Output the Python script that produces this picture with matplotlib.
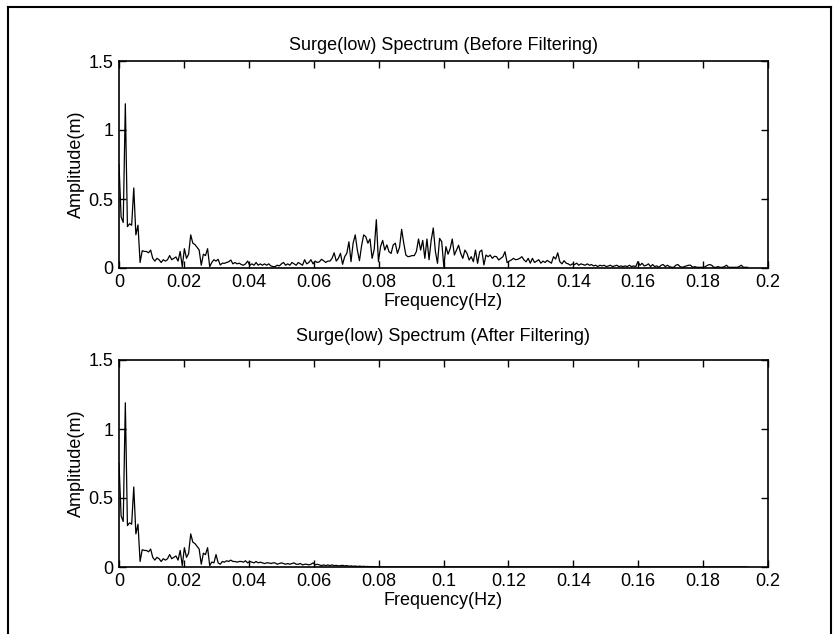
import matplotlib
matplotlib.use('Agg')
import matplotlib.pyplot as plt
from matplotlib.lines import Line2D
import numpy as np

# frequency grid of the spectrum (Hz)
df = 0.00065
n_points = 299

# amplitude before filtering (m), one value per frequency bin
before = [
    0.75, 0.37, 0.33, 1.19, 0.30, 0.32, 0.31, 0.58, 0.24, 0.31,
    0.04, 0.125, 0.12, 0.12, 0.11, 0.13, 0.07, 0.05, 0.07, 0.06,
    0.04, 0.06, 0.05, 0.06, 0.09, 0.06, 0.07, 0.08, 0.05, 0.12,
    0.01, 0.14, 0.07, 0.10, 0.24, 0.18, 0.17, 0.15, 0.13, 0.02,
    0.10, 0.09, 0.14, 0.01, 0.04, 0.06, 0.05, 0.063, 0.022, 0.035,
    0.034, 0.04, 0.045, 0.058, 0.03, 0.04, 0.03, 0.035, 0.025, 0.02,
    0.03, 0.05, 0.02, 0.03, 0.02, 0.04, 0.02, 0.03, 0.02, 0.03,
    0.02, 0.03, 0.015, 0.01, 0.01, 0.02, 0.015, 0.03, 0.04, 0.02,
    0.03, 0.02, 0.04, 0.03, 0.02, 0.04, 0.03, 0.02, 0.06, 0.03,
    0.04, 0.06, 0.03, 0.05, 0.04, 0.045, 0.063, 0.053, 0.04, 0.05,
    0.05, 0.07, 0.11, 0.05, 0.07, 0.106, 0.027, 0.082, 0.106, 0.19,
    0.046, 0.18, 0.24, 0.13, 0.053, 0.16, 0.24, 0.227, 0.18, 0.21,
    0.07, 0.135, 0.35, 0.046, 0.155, 0.20, 0.13, 0.167, 0.118, 0.106,
    0.167, 0.18, 0.106, 0.15, 0.28, 0.18, 0.094, 0.082, 0.085, 0.09,
    0.09, 0.12, 0.21, 0.13, 0.20, 0.07, 0.21, 0.06, 0.20, 0.29,
    0.12, 0.034, 0.215, 0.19, 0.01, 0.155, 0.10, 0.14, 0.21, 0.094,
    0.13, 0.165, 0.106, 0.07, 0.13, 0.106, 0.058, 0.082, 0.046, 0.13,
    0.034, 0.118, 0.13, 0.022, 0.094, 0.082, 0.094, 0.07, 0.085, 0.082,
    0.058, 0.07, 0.082, 0.118, 0.039, 0.05, 0.058, 0.07, 0.06, 0.063,
    0.07, 0.082, 0.058, 0.045, 0.07, 0.035, 0.07, 0.04, 0.05, 0.06,
    0.035, 0.05, 0.04, 0.055, 0.045, 0.035, 0.082, 0.065, 0.11, 0.046,
    0.03, 0.053, 0.035, 0.03, 0.02, 0.03, 0.025, 0.035, 0.02, 0.03,
    0.025, 0.02, 0.03, 0.02, 0.025, 0.015, 0.02, 0.01, 0.02, 0.015,
    0.02, 0.01, 0.015, 0.02, 0.01, 0.015, 0.02, 0.01, 0.015, 0.01,
    0.015, 0.01, 0.02, 0.01, 0.015, 0.01, 0.046, 0.02, 0.034, 0.015,
    0.02, 0.03, 0.01, 0.025, 0.01, 0.015, 0.005, 0.02, 0.025, 0.01,
    0.02, 0.01, 0.005, 0.005, 0.02, 0.025, 0.01, 0.005, 0.01, 0.015,
    0.02, 0.02, 0.005, 0.01, 0.005, 0.005, 0.005, 0.005, 0.01, 0.02,
    0.025, 0.02, 0.005, 0.005, 0.01, 0.005, 0.005, 0.01, 0.02, 0.005,
    0.005, 0.005, 0.005, 0.005, 0.01, 0.02, 0.005, 0.005, 0.005,
]

# amplitude after filtering (m): low band kept, the rest goes to zero
after_low = [
    0.75, 0.37, 0.33, 1.19, 0.30, 0.32, 0.31, 0.58, 0.24, 0.31,
    0.04, 0.125, 0.12, 0.12, 0.11, 0.13, 0.07, 0.05, 0.07, 0.06,
    0.04, 0.06, 0.05, 0.06, 0.09, 0.06, 0.07, 0.08, 0.05, 0.12,
    0.01, 0.14, 0.07, 0.10, 0.24, 0.18, 0.17, 0.15, 0.13, 0.02,
    0.10, 0.09, 0.14, 0.01, 0.036, 0.03, 0.09, 0.03, 0.02, 0.04,
    0.035, 0.045, 0.04, 0.05, 0.04, 0.04, 0.035, 0.04, 0.04, 0.035,
    0.045, 0.03, 0.04, 0.035, 0.03, 0.04, 0.03, 0.035, 0.03, 0.025,
    0.03, 0.03, 0.025, 0.03, 0.03, 0.02, 0.025, 0.03, 0.025, 0.02,
    0.025, 0.02, 0.025, 0.03, 0.02, 0.02, 0.025, 0.015, 0.02, 0.02,
    0.015, 0.02, 0.03, 0.015, 0.02, 0.015, 0.01, 0.015, 0.01, 0.015,
    0.01, 0.015, 0.01, 0.012, 0.008, 0.01, 0.012, 0.008, 0.01, 0.006,
    0.008, 0.005, 0.007, 0.004, 0.006, 0.004, 0.005, 0.003, 0.004, 0.002,
    0.003, 0.002, 0.001,
]
after = after_low + [0.0] * (n_points - len(after_low))

freq = np.arange(n_points) * df

xticks = [0, 0.02, 0.04, 0.06, 0.08, 0.1, 0.12, 0.14, 0.16, 0.18, 0.2]
xtick_labels = ['0', '0.02', '0.04', '0.06', '0.08', '0.1', '0.12', '0.14', '0.16', '0.18', '0.2']
yticks = [0, 0.5, 1, 1.5]
ytick_labels = ['0', '0.5', '1', '1.5']

plt.rcParams['font.family'] = ['Liberation Sans', 'DejaVu Sans']
FS = 13

W, H = 836, 634
fig = plt.figure(figsize=(W / 100, H / 100), dpi=100)

def px_axes(left, top, right, bottom):
    return fig.add_axes([left / W, 1 - bottom / H, (right - left) / W, (bottom - top) / H])

ax1 = px_axes(119, 61, 768, 268)
ax2 = px_axes(119, 360, 768, 567)

panels = [
    (ax1, before, 'Surge(low) Spectrum (Before Filtering)', 8),
    (ax2, after, 'Surge(low) Spectrum (After Filtering)', 14),
]

for ax, amp, title, pad in panels:
    ax.plot(freq, amp, color='black', lw=0.9)
    ax.set_xlim(0, 0.2)
    ax.set_ylim(0, 1.5)
    ax.set_xticks(xticks)
    ax.set_xticklabels(xtick_labels)
    ax.set_yticks(yticks)
    ax.set_yticklabels(ytick_labels)
    ax.tick_params(direction='in', length=5, width=1, top=True, right=True,
                   labelsize=FS, pad=4)
    for s in ax.spines.values():
        s.set_linewidth(1.2)
    ax.set_title(title, fontsize=FS, pad=pad)
    ax.set_xlabel('Frequency(Hz)', fontsize=FS, labelpad=2)
    ax.set_ylabel('Amplitude(m)', fontsize=FS)
    ax.yaxis.set_label_coords(-0.052, 0.5)

# frame around the figure (left, top, right edges)
x0, x1, y1 = 8 / W, 831 / W, 1 - 7 / H
fig.add_artist(Line2D([x0, x0], [0, y1], transform=fig.transFigure, color='black', lw=1.5))
fig.add_artist(Line2D([x0, x1], [y1, y1], transform=fig.transFigure, color='black', lw=1.5))
fig.add_artist(Line2D([x1, x1], [0, y1], transform=fig.transFigure, color='black', lw=1.5))

fig.savefig('out.png', dpi=100)
